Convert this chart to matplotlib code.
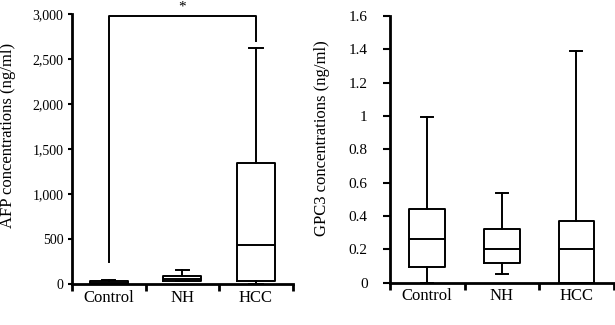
import matplotlib
matplotlib.use("Agg")
import matplotlib.pyplot as plt
from matplotlib.ticker import FuncFormatter

plt.rcParams['font.family'] = ['Liberation Serif', 'DejaVu Serif']

categories = ["Control", "NH", "HCC"]

# AFP (ng/ml): whislo, q1, med, q3, whishi
afp_whislo = [0, 30, 0]
afp_q1 = [5, 37, 35]
afp_med = [15, 59, 437]
afp_q3 = [35, 85, 1344]
afp_whishi = [40, 155, 2626]

# GPC3 (ng/ml)
gpc_whislo = [0.0, 0.054, 0.0]
gpc_q1 = [0.096, 0.12, 0.0]
gpc_med = [0.26, 0.204, 0.204]
gpc_q3 = [0.442, 0.32, 0.37]
gpc_whishi = [0.991, 0.536, 1.388]

afp_ticks = [0, 500, 1000, 1500, 2000, 2500, 3000]
gpc_ticks = [0, 0.2, 0.4, 0.6, 0.8, 1.0, 1.2, 1.4, 1.6]

# significance bracket (AFP)
sig_left_bottom = 245
sig_top = 2980
sig_right_bottom = 2700
sig_label = "*"


def stats(lo, q1, med, q3, hi):
    out = []
    for i in range(len(lo)):
        out.append(dict(whislo=lo[i], q1=q1[i], med=med[i], q3=q3[i],
                        whishi=hi[i], fliers=[], label=categories[i]))
    return out


fig = plt.figure(figsize=(6.15, 3.25), dpi=100)
ax1 = fig.add_axes([0.117, 0.126, 0.359, 0.831])
ax2 = fig.add_axes([0.634, 0.130, 0.364, 0.8215])

lw = 1.4
props = dict(
    boxprops=dict(color='black', linewidth=lw),
    medianprops=dict(color='black', linewidth=lw),
    whiskerprops=dict(color='black', linewidth=lw),
    capprops=dict(color='black', linewidth=lw),
)

pos = [0, 1, 2]
ax1.bxp(stats(afp_whislo, afp_q1, afp_med, afp_q3, afp_whishi), positions=pos,
        widths=0.52, capwidths=0.18, showfliers=False, **props)
ax2.bxp(stats(gpc_whislo, gpc_q1, gpc_med, gpc_q3, gpc_whishi), positions=pos,
        widths=0.48, capwidths=0.16, showfliers=False, **props)

for ax in (ax1, ax2):
    ax.set_xlim(-0.5, 2.5)
    for s in ('top', 'right'):
        ax.spines[s].set_visible(False)
    for s in ('left', 'bottom'):
        ax.spines[s].set_linewidth(2)
    ax.set_xticks(pos)
    ax.set_xticklabels(categories, fontsize=12)
    ax.tick_params(axis='x', which='major', length=0, pad=4)
    ax.set_xticks([-0.5, 0.5, 1.5, 2.5], minor=True)
    ax.tick_params(axis='x', which='minor', length=5, width=2, direction='out')

ax1.tick_params(axis='y', length=3, width=1.5, direction='out', labelsize=10, pad=3)
ax2.tick_params(axis='y', length=5, width=1.5, direction='out', labelsize=11, pad=11)

ax1.set_ylim(0, 3000)
ax1.set_yticks(afp_ticks)
ax1.yaxis.set_major_formatter(FuncFormatter(lambda v, p: f"{int(v):,}"))
ax1.set_ylabel("AFP concentrations (ng/ml)", fontsize=12)
ax1.yaxis.set_label_coords(-0.252, 0.55)

ax2.set_ylim(0, 1.6)
ax2.set_yticks(gpc_ticks)
ax2.yaxis.set_major_formatter(FuncFormatter(lambda v, p: f"{v:g}"))
ax2.set_ylabel("GPC3 concentrations (ng/ml)", fontsize=12)
ax2.yaxis.set_label_coords(-0.268, 0.54)

ax1.plot([0, 0, 2, 2], [sig_left_bottom, sig_top, sig_top, sig_right_bottom],
         color='black', linewidth=1.4, clip_on=False)
ax1.text(1, sig_top + 20, sig_label, ha='center', va='bottom', fontsize=11,
         clip_on=False)

fig.savefig("out.png", dpi=100)
